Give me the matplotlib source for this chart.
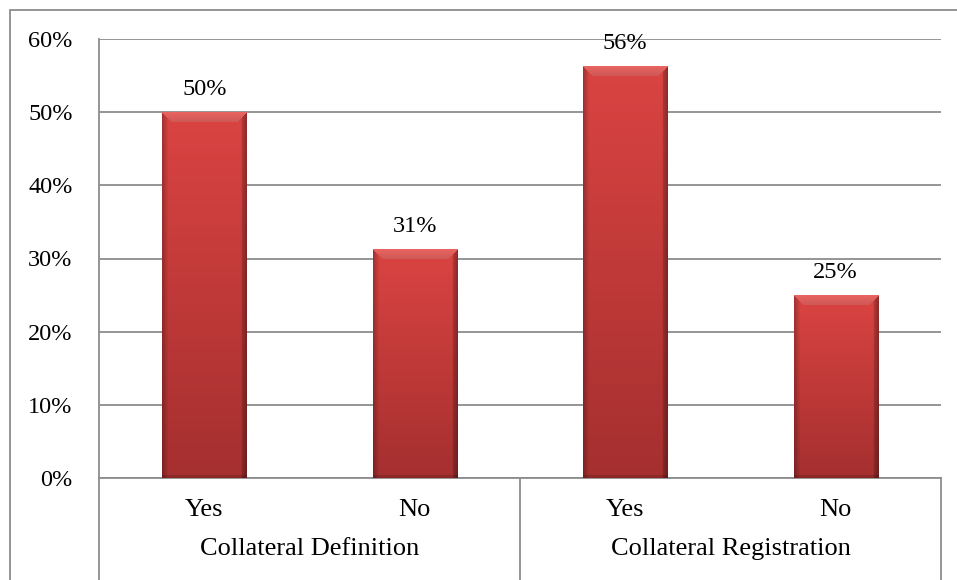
import numpy as np
import matplotlib
matplotlib.use("Agg")
import matplotlib.pyplot as plt
from matplotlib.lines import Line2D
from matplotlib.patches import Rectangle
import matplotlib.transforms as mtransforms

# data
groups = ["Collateral Definition", "Collateral Registration"]
answers = ["Yes", "No", "Yes", "No"]
values = [50, 31.25, 56.25, 25]
yticks = [0, 10, 20, 30, 40, 50, 60]

plt.rcParams['font.family'] = ['Liberation Serif', 'DejaVu Serif']
plt.rcParams['font.size'] = 17.5

W, H = 957, 580
fig = plt.figure(figsize=(W / 100, H / 100), dpi=100)
ax = fig.add_axes([99 / W, (H - 478) / H, (941 - 99) / W, (478 - 39) / H])

x = np.arange(len(values))
bars = ax.bar(x, values, width=0.4, color="#d64040", zorder=3)

ax.set_xlim(-0.5, len(values) - 0.5)
ax.set_ylim(0, 60)
ax.set_yticks(yticks)
ax.set_yticklabels([f"{t}%" for t in yticks])
ax.set_xticks([])
ax.tick_params(axis="y", length=0, pad=19)
ax.yaxis.grid(True, color="#8c8c8c", linewidth=1.3, zorder=0)
ax.set_axisbelow(True)
for s in ["top", "right"]:
    ax.spines[s].set_visible(False)
for s in ["left", "bottom"]:
    ax.spines[s].set_color("#8c8c8c")
    ax.spines[s].set_linewidth(1.3)

fig.canvas.draw()


def bar_image(wpx, hpx):
    top = np.array([218, 68, 66]) / 255
    bot = np.array([165, 47, 47]) / 255
    yy = np.linspace(0, 1, hpx)[:, None, None]
    img = top * (1 - yy) + bot * yy
    img = np.repeat(img, wpx, axis=1)
    cols = np.arange(wpx)
    edge = np.minimum(cols, wpx - 1 - cols)
    dark = 1 - 0.25 * np.clip(1 - edge / 6.0, 0, 1)
    dark[cols > wpx - 6] *= 0.88
    img = img * dark[None, :, None]
    # top bevel, lighter with slanted corners
    bev = 10
    for r in range(min(bev, hpx)):
        m = (cols >= r) & (cols <= wpx - 1 - r)
        light = np.array([232, 100, 96]) / 255 * (1 - 0.012 * r)
        img[r, m] = light
    # slightly darker bottom rim
    img[-3:] *= 0.85
    return np.clip(img, 0, 1)


for b in bars:
    (x0, y0), (x1, y1) = ax.transData.transform([(b.get_x(), 0), (b.get_x() + b.get_width(), b.get_height())])
    wpx, hpx = int(round(x1 - x0)), int(round(y1 - y0))
    im = ax.imshow(bar_image(wpx, hpx), extent=[b.get_x(), b.get_x() + b.get_width(), 0, b.get_height()],
                   aspect="auto", zorder=4, interpolation="nearest")
    im.set_clip_path(b)

for xi, v in zip(x, values):
    ax.annotate(f"{v:.0f}%", (xi, v), xytext=(0, 9), textcoords="offset points",
                ha="center", va="bottom", zorder=5)

ax.set_aspect("auto")
ax.set_xlim(-0.5, len(values) - 0.5)
ax.set_ylim(0, 60)

trans = mtransforms.blended_transform_factory(ax.transData, ax.transAxes)
axh = 478 - 39
for xi, lab in zip(x, answers):
    ax.text(xi, -(510 - 478) / axh, lab, transform=trans, ha="center", va="center", fontsize=19)
for gi, g in enumerate(groups):
    ax.text(gi * 2 + 0.5, -(549 - 478) / axh, g, transform=trans, ha="center", va="center", fontsize=19)

for xs in [-0.5, 1.5, 3.5]:
    ax.add_line(Line2D([xs, xs], [0, -(582 - 478) / axh], transform=trans, color="#8c8c8c",
                       linewidth=1.3, clip_on=False))

# outer chart frame (cut off at right and bottom)
fig.add_artist(Rectangle((10 / W, -0.05), 1.1, (H - 10) / H + 0.05, transform=fig.transFigure,
                         fill=False, edgecolor="#8c8c8c", linewidth=1.3))

fig.savefig("out.png", dpi=100)
